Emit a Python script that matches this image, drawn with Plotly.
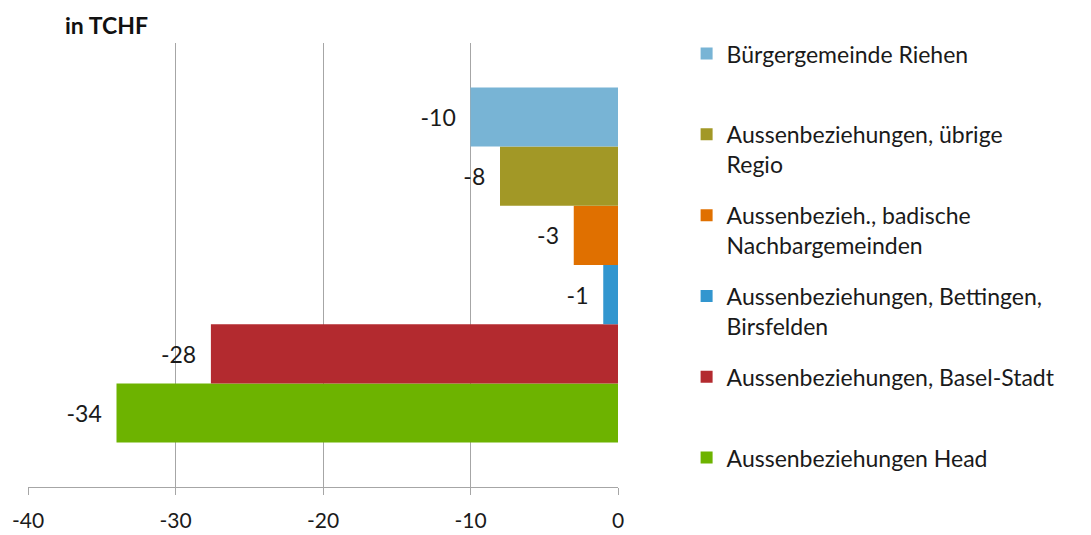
import plotly.graph_objects as go

# series, bottom to top as drawn (Excel draws the first legend entry on top)
series = [
    "Aussenbeziehungen Head",
    "Aussenbeziehungen, Basel-Stadt",
    "Aussenbeziehungen, Bettingen,<br>Birsfelden",
    "Aussenbezieh., badische<br>Nachbargemeinden",
    "Aussenbeziehungen, übrige<br>Regio",
    "Bürgergemeinde Riehen",
]
values = [-34.0, -27.6, -1.0, -3.0, -8.0, -10.0]
colors = ["#6db300", "#b32a2f", "#3296cf", "#e07000", "#a29826", "#78b4d5"]
category = ["TCHF"]

x_ticks = [-40, -30, -20, -10, 0]
x_ticktext = ["-40", "-30", "-20", "-10", "0"]

FONT = "Lato"

fig = go.Figure()
for i, (name, val, col) in enumerate(zip(series, values, colors)):
    # pad one-line names so every legend entry takes two lines (even spacing)
    label = name if "<br>" in name else name + "<br> "
    fig.add_trace(go.Bar(
        y=category, x=[val], name=label, orientation="h",
        marker=dict(color=col, line=dict(width=0)),
        text=[val], texttemplate="%{x:.0f}  ", textposition="outside",
        textfont=dict(family=FONT, size=23, color="#1a1a1a"),
        cliponaxis=False, legendgroup=name, legendrank=len(series) - i,
    ))

# the page body adds an 8px margin, so the figure is placed 8px in from the window edge
fig.update_layout(
    width=1091, height=535,
    paper_bgcolor="white", plot_bgcolor="white",
    margin=dict(l=20, r=481, t=35, b=56),
    barmode="group", bargap=0.2, bargroupgap=0,
    font=dict(family=FONT, size=20, color="#1a1a1a"),
    title=dict(text="<b>in TCHF</b>", x=57 / 1091, xanchor="left", y=0.982, yanchor="top",
               font=dict(family=FONT, size=23, color="#111")),
    xaxis=dict(range=[-40, 0], tickvals=x_ticks, ticktext=x_ticktext, showgrid=True,
               gridcolor="#a6a6a6", gridwidth=1, zeroline=False, showline=True,
               linecolor="#a6a6a6", linewidth=1, ticks="outside", ticklen=7,
               tickcolor="#a6a6a6", tickfont=dict(size=21), ticklabelstandoff=8,
               automargin=False),
    yaxis=dict(showticklabels=False, showgrid=False, zeroline=False, showline=False,
               automargin=False),
    legend=dict(xref="container", yref="container", x=0.622, y=0.955, xanchor="left", yanchor="top",
                traceorder="grouped", tracegroupgap=18, valign="top", maxheight=530,
                font=dict(family=FONT, size=23, color="#1a1a1a"), itemwidth=30),
    showlegend=True,
)

fig.write_html("out.html")
